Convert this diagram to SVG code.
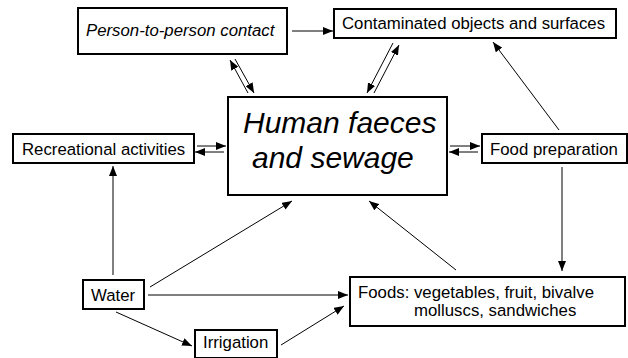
<svg xmlns="http://www.w3.org/2000/svg" width="628" height="358" viewBox="0 0 628 358">
<style>
.box{fill:#fff;stroke:#000;stroke-width:2}
.t{font-family:"Liberation Sans",Arial,sans-serif;font-size:16.8px;fill:#000}
.it{font-style:italic}
.big{font-family:"Liberation Sans",Arial,sans-serif;font-size:30px;font-style:italic;fill:#000}
.c{stroke:#000;stroke-width:1;fill:none;marker-end:url(#ah)}
</style>
<defs>
<marker id="ah" viewBox="0 0 10 8" refX="10" refY="4" markerWidth="10" markerHeight="8" markerUnits="userSpaceOnUse" orient="auto">
<path d="M0,0 L10,4 L0,8 Z" fill="#000"/>
</marker>
</defs>
<rect width="628" height="358" fill="#fff"/>
<g id="connectors">
<line class="c" x1="292" y1="31" x2="333" y2="31"/>
<line class="c" x1="248" y1="93" x2="230" y2="60"/>
<line class="c" x1="235" y1="59" x2="254" y2="93"/>
<line class="c" x1="393" y1="43" x2="367" y2="93"/>
<line class="c" x1="374" y1="93" x2="399" y2="45"/>
<line class="c" x1="559" y1="130" x2="493" y2="42"/>
<line class="c" x1="450" y1="146" x2="480" y2="146"/>
<line class="c" x1="478" y1="152" x2="449" y2="152"/>
<line class="c" x1="197" y1="146" x2="226" y2="146"/>
<line class="c" x1="224" y1="152" x2="195" y2="152"/>
<line class="c" x1="113" y1="275" x2="113" y2="166"/>
<line class="c" x1="150" y1="287" x2="292" y2="201"/>
<line class="c" x1="148" y1="295" x2="348" y2="295"/>
<line class="c" x1="116" y1="312" x2="192" y2="346"/>
<line class="c" x1="281" y1="345" x2="344" y2="306"/>
<line class="c" x1="456" y1="270" x2="369" y2="201"/>
<line class="c" x1="562" y1="167" x2="562" y2="271"/>
</g>
<g id="person">
<rect class="box" x="78" y="8" width="209" height="46"/>
<text class="t it" x="86" y="36">Person-to-person contact</text>
</g>
<g id="contaminated">
<rect class="box" x="334" y="9" width="282" height="29"/>
<text class="t" x="342" y="29">Contaminated objects and surfaces</text>
</g>
<g id="human">
<rect class="box" x="228" y="97" width="219" height="98"/>
<text class="big" x="243" y="133">Human faeces</text>
<text class="big" x="252" y="168">and sewage</text>
</g>
<g id="recreational">
<rect class="box" x="13" y="134" width="181" height="29"/>
<text class="t" x="22" y="155">Recreational activities</text>
</g>
<g id="foodprep">
<rect class="box" x="482" y="134" width="145" height="29"/>
<text class="t" x="490" y="155">Food preparation</text>
</g>
<g id="water">
<rect class="box" x="83" y="280" width="61" height="29"/>
<text class="t" x="91" y="301">Water</text>
</g>
<g id="irrigation">
<rect class="box" x="195" y="330" width="82" height="28"/>
<text class="t" x="203" y="348">Irrigation</text>
</g>
<g id="foods">
<rect class="box" x="350" y="277" width="275" height="49"/>
<text class="t" x="358" y="298">Foods: vegetables, fruit, bivalve</text>
<text class="t" x="414" y="316">molluscs, sandwiches</text>
</g>
</svg>
